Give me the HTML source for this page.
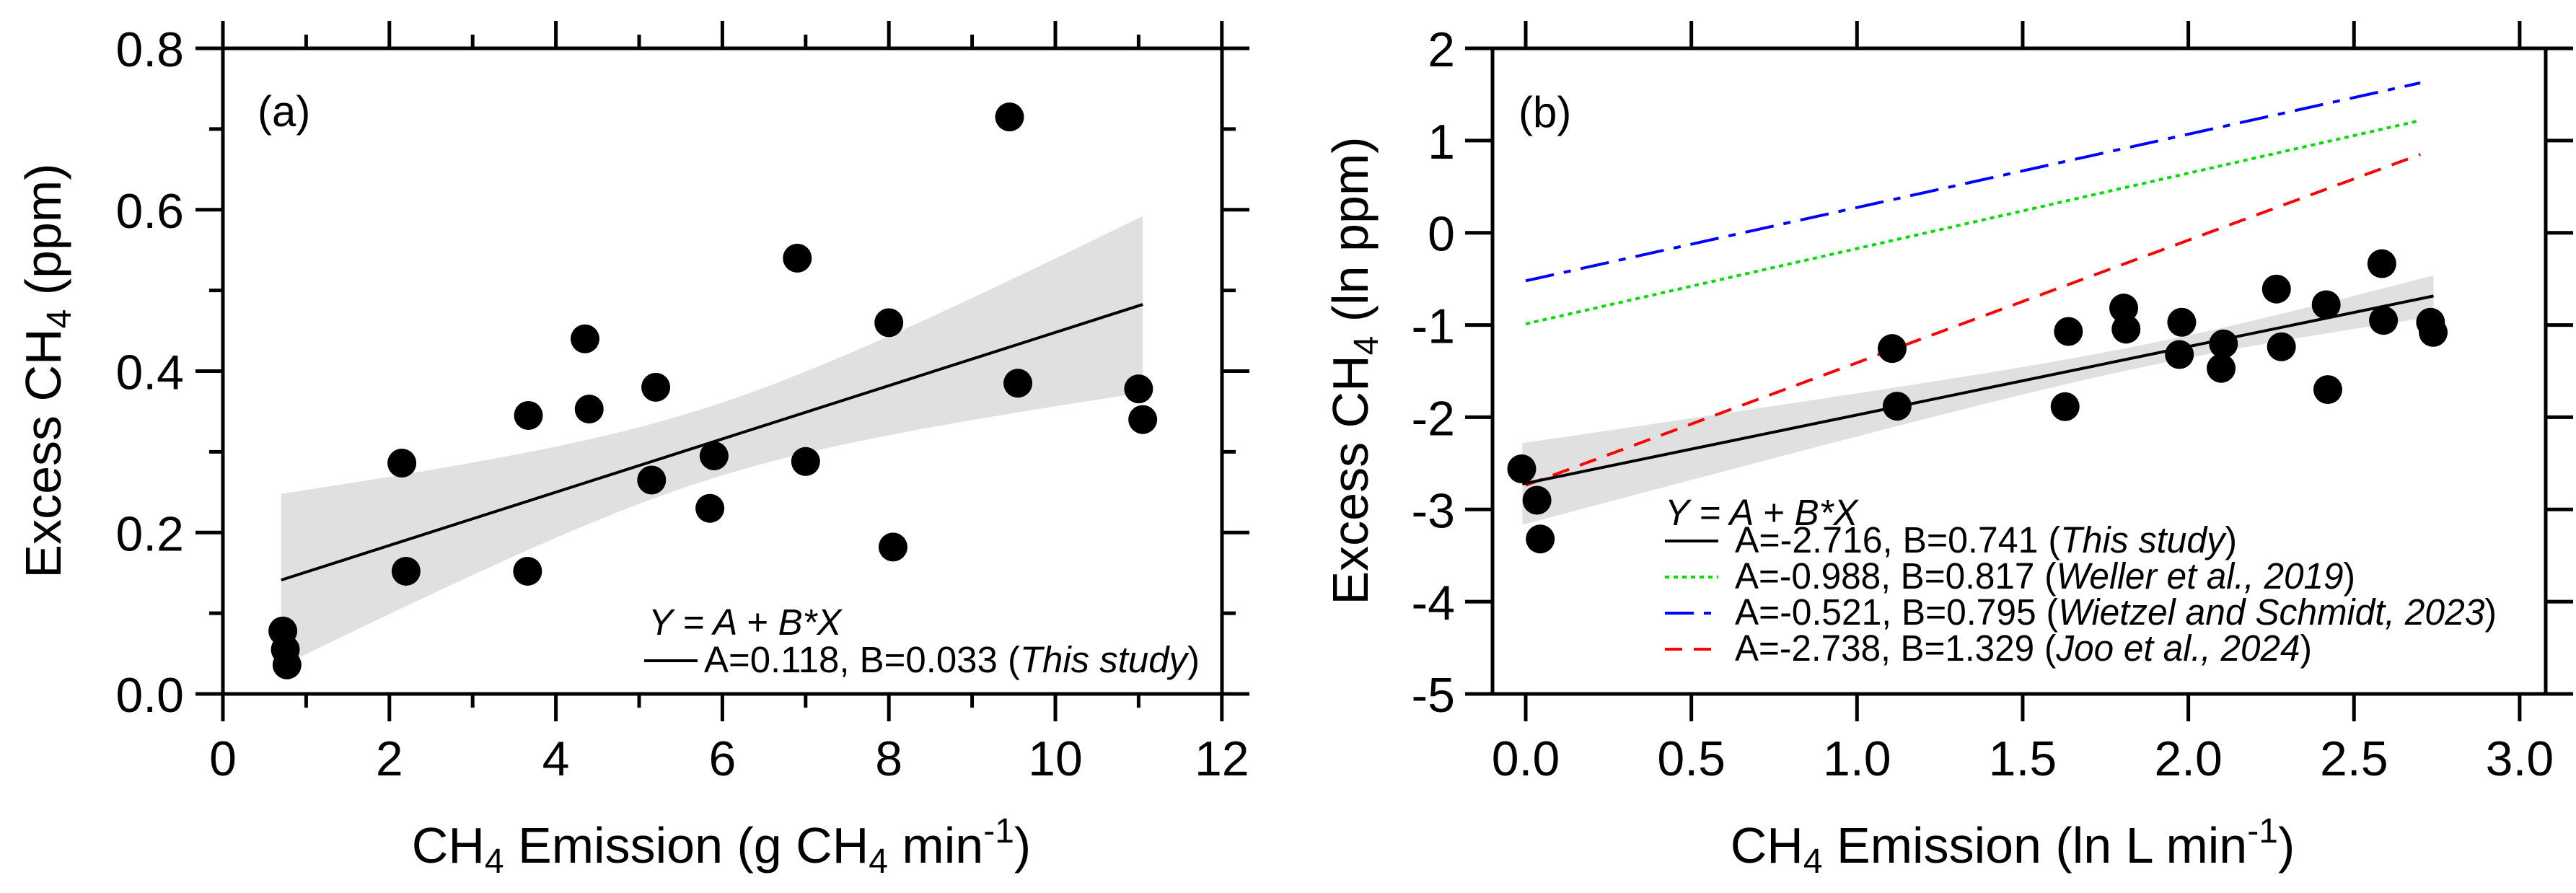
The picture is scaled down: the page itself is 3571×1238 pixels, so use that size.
<!DOCTYPE html>
<html><head><meta charset="utf-8"><style>
html,body{margin:0;padding:0;background:#fff}
svg{display:block}
text{font-family:"Liberation Sans",Arial,sans-serif;fill:#000}
</style></head><body>
<svg id="fig" width="3571" height="1238" viewBox="0 0 3571 1238" xmlns="http://www.w3.org/2000/svg">
<g id="pa"></g>
<g id="pb"></g>
</svg>
<script>
// ---- Panel (a) data ----
const aX = [0.72,0.75,0.77,2.15,2.2,3.67,3.66,4.35,4.4,5.15,5.2,5.85,5.9,6.9,7.0,8.0,8.05,9.45,9.55,11.0,11.05];
const aY = [0.078,0.055,0.036,0.286,0.152,0.345,0.152,0.44,0.353,0.265,0.38,0.23,0.295,0.54,0.288,0.46,0.182,0.715,0.385,0.378,0.34];
const aFit = [0.118,0.033];
const aFitRange = [0.70,11.05];
const aBand = [0.045,0.019,5.8]; // min half-width, slope factor, centre
const aXTicks = [0,2,4,6,8,10,12];
const aYTicks = [0.0,0.2,0.4,0.6,0.8];
const aYTickLabels = ["0.0","0.2","0.4","0.6","0.8"];

// ---- Panel (b) data ----
const bX = [-0.012,0.034,0.044,1.106,1.121,1.628,1.638,1.805,1.812,1.980,1.973,2.106,2.099,2.266,2.281,2.416,2.421,2.584,2.589,2.731,2.739];
const bY = [-2.56,-2.90,-3.32,-1.255,-1.88,-1.885,-1.07,-0.816,-1.045,-0.97,-1.32,-1.205,-1.47,-0.61,-1.236,-0.78,-1.70,-0.335,-0.95,-0.97,-1.08];
const bFitA = [-2.716,-0.988,-0.521,-2.738];
const bFitB = [0.741,0.817,0.795,1.329];
const bFitEnd = [2.74,2.70,2.70,2.70];
const bFitStart = [-0.01,0,0,0];
const bBand = [0.12,0.223,1.9];
const bXTicks = [0,0.5,1,1.5,2,2.5,3];
const bXTickLabels = ["0.0","0.5","1.0","1.5","2.0","2.5","3.0"];
const bYTicks = [-5,-4,-3,-2,-1,0,1,2];

const NS="http://www.w3.org/2000/svg";
function mk(parent,tag,attrs){const e=document.createElementNS(NS,tag);for(const k in attrs)e.setAttribute(k,attrs[k]);parent.appendChild(e);return e;}

function panel(g,cfg){
  const L=cfg.L,R=cfg.R,T=67,B=962;
  const sx=v=>L+cfg.x0off+(v-cfg.xmin)*cfg.xs;
  const sy=v=>B-(v-cfg.ymin)*(B-T)/(cfg.ymax-cfg.ymin);
  cfg.sx=sx;cfg.sy=sy;
  // band
  const bandPts=[],low=[];
  for(let i=0;i<=60;i++){const x=cfg.fr[0]+(cfg.fr[1]-cfg.fr[0])*i/60;const y=cfg.A+cfg.Bs*x;const h=Math.sqrt(cfg.band[0]**2+(cfg.band[1]*(x-cfg.band[2]))**2);bandPts.push(sx(x)+","+sy(y+h));low.unshift(sx(x)+","+sy(y-h));}
  const band=mk(g,"polygon",{points:bandPts.concat(low).join(" "),fill:"#e0e0e0"});
  
  
  cfg.drawLines(g);
  // dots
  for(let i=0;i<cfg.px.length;i++){
    const c=mk(g,"circle",{cx:sx(cfg.px[i]),cy:sy(cfg.py[i]),r:20,fill:"#000"});
    
    
  }
  // frame
  const fr=mk(g,"rect",{x:L,y:T,width:R-L,height:B-T,fill:"none",stroke:"#000","stroke-width":5});
  
  
  const tk=mk(g,"g",{stroke:"#000","stroke-width":5});
  
  
  cfg.xticks.forEach((v,i)=>{const x=sx(v);
    mk(tk,"line",{x1:x,y1:B,x2:x,y2:B+38});mk(tk,"line",{x1:x,y1:T,x2:x,y2:T-38});
    const t=mk(g,"text",{x:x,y:1075,"font-size":68,"text-anchor":"middle"});t.textContent=cfg.xlabels[i];
    
    
  });
  (cfg.xminor||[]).forEach(v=>{const x=sx(v);mk(tk,"line",{x1:x,y1:B,x2:x,y2:B+19});mk(tk,"line",{x1:x,y1:T,x2:x,y2:T-19});});
  cfg.yticks.forEach((v,i)=>{const y=sy(v);
    mk(tk,"line",{x1:L,y1:y,x2:L-38,y2:y});mk(tk,"line",{x1:R,y1:y,x2:R+38,y2:y});
    const t=mk(g,"text",{x:cfg.ylabX,y:y+25,"font-size":68,"text-anchor":"end"});t.textContent=cfg.ylabels[i];
    
    
  });
  (cfg.yminor||[]).forEach(v=>{const y=sy(v);mk(tk,"line",{x1:L,y1:y,x2:L-19,y2:y});mk(tk,"line",{x1:R,y1:y,x2:R+19,y2:y});});
}

// Panel a
const ga=document.getElementById('pa');
const cfgA={L:309,R:1694,x0off:0,xmin:0,xs:115.4,ymin:0,ymax:0.8,px:aX,py:aY,A:aFit[0],Bs:aFit[1],fr:aFitRange,band:aBand,
  xticks:aXTicks,xlabels:aXTicks.map(String),xminor:[1,3,5,7,9,11],yticks:aYTicks,ylabels:aYTickLabels,yminor:[0.1,0.3,0.5,0.7],ylabX:255,
  drawLines:function(g){const l=mk(g,"line",{x1:this.sx(aFitRange[0]),y1:this.sy(aFit[0]+aFit[1]*aFitRange[0]),x2:this.sx(aFitRange[1]),y2:this.sy(aFit[0]+aFit[1]*aFitRange[1]),stroke:"#000","stroke-width":4});
    
    }};
panel(ga,cfgA);

// Panel b
const gb=document.getElementById('pb');
const styles=[{c:"#000",d:""},{c:"#00dd00",d:"6 6"},{c:"#0000ff",d:"40 14 10 14"},{c:"#ff0000",d:"24 16"}];
const names=['fit-line-this-study','fit-line-weller-2019','fit-line-wietzel-2023','fit-line-joo-2024'];
const cfgB={L:2069,R:3529,x0off:46,xmin:0,xs:459.3,ymin:-5,ymax:2,px:bX,py:bY,A:bFitA[0],Bs:bFitB[0],fr:[bFitStart[0],bFitEnd[0]],band:bBand,
  xticks:bXTicks,xlabels:bXTickLabels,yticks:bYTicks,ylabels:bYTicks.map(String),ylabX:2017,
  drawLines:function(g){for(let i=bFitA.length-1;i>=0;i--){const a={x1:this.sx(bFitStart[i]),y1:this.sy(bFitA[i]+bFitB[i]*bFitStart[i]),x2:this.sx(bFitEnd[i]),y2:this.sy(bFitA[i]+bFitB[i]*bFitEnd[i]),stroke:styles[i].c,"stroke-width":4};if(styles[i].d)a["stroke-dasharray"]=styles[i].d;
    const l=mk(g,"line",a);
    
    }}};
panel(gb,cfgB);
</script>
<svg width="0" height="0" style="position:absolute"></svg>
<script>
// static labels and legends
const fig=document.getElementById('fig');
fig.insertAdjacentHTML('beforeend',`
<text x="357" y="175" font-size="60">(a)</text>
<text x="2105" y="176" font-size="60">(b)</text>
<text transform="translate(84,514) rotate(-90)" font-size="70" text-anchor="middle">Excess CH<tspan font-size="48" dy="14">4</tspan><tspan dy="-14"> (ppm)</tspan></text>
<text transform="translate(1896,514) rotate(-90)" font-size="70" text-anchor="middle">Excess CH<tspan font-size="48" dy="14">4</tspan><tspan dy="-14"> (ln ppm)</tspan></text>
<text x="1000" y="1196" font-size="70" text-anchor="middle">CH<tspan font-size="48" dy="14">4</tspan><tspan dy="-14"> Emission (g CH</tspan><tspan font-size="48" dy="14">4</tspan><tspan dy="-14"> min</tspan><tspan font-size="48" dy="-28">-1</tspan><tspan dy="28">)</tspan></text>
<text x="2790" y="1196" font-size="70" text-anchor="middle">CH<tspan font-size="48" dy="14">4</tspan><tspan dy="-14"> Emission (ln L min</tspan><tspan font-size="48" dy="-28">-1</tspan><tspan dy="28">)</tspan></text>
<g>
<text x="899" y="880" font-size="51" font-style="italic">Y = A + B*X</text>
<line x1="893" y1="916" x2="967" y2="916" stroke="#000" stroke-width="4"/>
<text x="976" y="932" font-size="51" textLength="687" lengthAdjust="spacingAndGlyphs">A=0.118, B=0.033 (<tspan font-style="italic">This study</tspan>)</text>
</g>
<g>
<text x="2308" y="728" font-size="51" font-style="italic">Y = A + B*X</text>
<line x1="2308" y1="750" x2="2382" y2="750" stroke="#000" stroke-width="4"/>
<text x="2405" y="766" font-size="51" textLength="696" lengthAdjust="spacingAndGlyphs">A=-2.716, B=0.741 (<tspan font-style="italic">This study</tspan>)</text>
<line x1="2308" y1="800" x2="2382" y2="800" stroke="#00dd00" stroke-width="4" stroke-dasharray="6 6"/>
<text x="2405" y="816" font-size="51" textLength="860" lengthAdjust="spacingAndGlyphs">A=-0.988, B=0.817 (<tspan font-style="italic">Weller et al., 2019</tspan>)</text>
<line x1="2308" y1="850" x2="2382" y2="850" stroke="#0000ff" stroke-width="4" stroke-dasharray="40 14 10 14"/>
<text x="2405" y="866" font-size="51" textLength="1056" lengthAdjust="spacingAndGlyphs">A=-0.521, B=0.795 (<tspan font-style="italic">Wietzel and Schmidt, 2023</tspan>)</text>
<line x1="2308" y1="900" x2="2382" y2="900" stroke="#ff0000" stroke-width="4" stroke-dasharray="24 16"/>
<text x="2405" y="916" font-size="51" textLength="800" lengthAdjust="spacingAndGlyphs">A=-2.738, B=1.329 (<tspan font-style="italic">Joo et al., 2024</tspan>)</text>
</g>`);
</script>
</body></html>
